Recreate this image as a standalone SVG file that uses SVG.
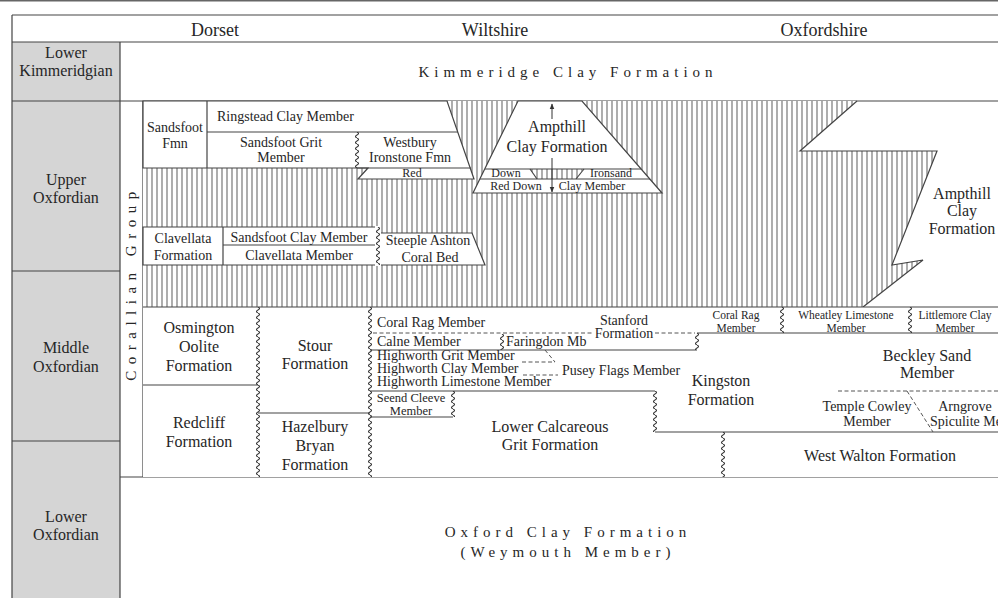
<svg xmlns="http://www.w3.org/2000/svg" width="998" height="598" viewBox="0 0 998 598">
<style>
text{font-family:"Liberation Serif","DejaVu Serif",serif;fill:#262626}
.h{font-size:18px;text-anchor:middle}
.s{font-size:16px;text-anchor:middle}
.f{font-size:16px;text-anchor:middle}
.m{font-size:14px;text-anchor:middle}
.m2{font-size:12.5px;text-anchor:middle}
.m3{font-size:11.5px;text-anchor:middle}
.ml{font-size:14px}
.sm{font-size:12px;text-anchor:middle}
.sp{font-size:15px;text-anchor:middle;letter-spacing:5px}
.ln{stroke:#444;stroke-width:1.2;fill:none}
.bx{fill:#fff;stroke:#444;stroke-width:1.2}
.ds{stroke:#555;stroke-width:1;stroke-dasharray:4 2.5;fill:none}
.wv{fill:url(#wave)}
</style>
<defs>
<pattern id="hatch" patternUnits="userSpaceOnUse" width="5" height="10"><rect width="5" height="10" fill="#fff"/><line x1="2" y1="0" x2="2" y2="10" stroke="#777" stroke-width="1.2"/></pattern>
<pattern id="wave" patternUnits="userSpaceOnUse" width="6" height="6"><path d="M3 0Q6 1.5 3 3Q0 4.5 3 6" fill="none" stroke="#333" stroke-width="1.1"/></pattern>
<marker id="ah" viewBox="0 0 10 10" refX="9" refY="5" markerWidth="6" markerHeight="6" orient="auto"><path d="M0 1L10 5L0 9z" fill="#333"/></marker>
</defs>
<rect width="998" height="598" fill="#fff"/>
<rect x="0" y="0" width="998" height="1.5" fill="#666"/>

<g id="frame">
<rect x="12" y="42" width="108" height="556" fill="#d5d5d5"/>
<line class="ln" x1="12" y1="15" x2="998" y2="15" stroke-width="2"/>
<line class="ln" x1="12" y1="42" x2="998" y2="42" stroke-width="2"/>
<line class="ln" x1="12" y1="15" x2="12" y2="598" stroke-width="1.5"/>
<line class="ln" x1="120" y1="42" x2="120" y2="598"/>
<line class="ln" x1="12" y1="101" x2="998" y2="101"/>
<line class="ln" x1="12" y1="271" x2="120" y2="271"/>
<line class="ln" x1="12" y1="441" x2="120" y2="441"/>
<line class="ln" x1="120" y1="477" x2="998" y2="477"/>
<line class="ln" x1="143" y1="101" x2="143" y2="477"/>
</g>

<g id="header">
<text class="h" x="215" y="36">Dorset</text>
<text class="h" x="495" y="36">Wiltshire</text>
<text class="h" x="824" y="36">Oxfordshire</text>
</g>

<g id="stages">
<text class="s" x="66" y="58">Lower</text><text class="s" x="66" y="76">Kimmeridgian</text>
<text class="s" x="66" y="185">Upper</text><text class="s" x="66" y="203">Oxfordian</text>
<text class="s" x="66" y="353">Middle</text><text class="s" x="66" y="372">Oxfordian</text>
<text class="s" x="66" y="522">Lower</text><text class="s" x="66" y="540">Oxfordian</text>
</g>

<g id="kimmeridge-clay"><text class="sp" x="568" y="77">Kimmeridge Clay Formation</text></g>
<g id="oxford-clay"><text class="sp" x="568" y="537">Oxford Clay Formation</text><text class="sp" x="568" y="557">(Weymouth Member)</text></g>
<g id="corallian-group"><text font-size="15" letter-spacing="6.5" text-anchor="middle" transform="translate(136,283) rotate(-90)">Corallian Group</text></g>

<g id="hatched-area">
<polygon points="143,101 857,101 800,151 937,151 892,265 923,260 863,307 143,307" fill="url(#hatch)"/>
<polyline class="ln" points="857,101 800,151 937,151 892,265 923,260 863,307"/>
</g>

<g id="dorset-upper">
<polygon class="bx" points="143,101 447,101 474,179 358,179 368,168 143,168"/>
<line class="ln" x1="207" y1="101" x2="207" y2="168"/>
<line class="ln" x1="207" y1="132" x2="458" y2="132"/>
<line class="ln" x1="357" y1="168" x2="471" y2="168"/>
<rect class="wv" width="6" height="36" transform="translate(354,132)"/>
<text class="m" x="175" y="132">Sandsfoot</text><text class="m" x="175" y="148">Fmn</text>
<text class="ml" x="217" y="121">Ringstead Clay Member</text>
<text class="m" x="281" y="147">Sandsfoot Grit</text><text class="m" x="281" y="162">Member</text>
<text class="m" x="410" y="147">Westbury</text><text class="m" x="410" y="162">Ironstone Fmn</text>
<text class="sm" x="412" y="177" font-size="11">Red</text>
</g>

<g id="ampthill-wilts">
<polygon class="bx" points="518,101 582,101 662,193 473,193"/>
<polygon points="530,169 583,169 577,179 537,179" fill="url(#hatch)"/>
<line class="ln" x1="485" y1="169" x2="641" y2="169"/>
<line class="ln" x1="480" y1="179" x2="650" y2="179"/>
<line class="ln" x1="530" y1="169" x2="537" y2="179"/>
<line class="ln" x1="584" y1="169" x2="576" y2="179"/>
<text class="f" x="557" y="132">Ampthill</text><text class="f" x="557" y="152">Clay Formation</text>
<text class="sm" x="506" y="177">Down</text><text class="sm" x="611" y="177">Ironsand</text>
<text class="sm" x="516" y="190" font-size="12.5">Red Down</text><text class="sm" x="592" y="190" font-size="12.5">Clay Member</text>
</g>

<g id="ampthill-oxon">
<text class="f" x="962" y="199">Ampthill</text><text class="f" x="962" y="216">Clay</text><text class="f" x="962" y="234">Formation</text>
</g>

<g id="clavellata">
<polygon class="bx" points="143,227 378,227 378,233 472,233 485,265 143,265"/>
<line class="ln" x1="223" y1="227" x2="223" y2="265"/>
<line class="ln" x1="223" y1="245" x2="378" y2="245"/>
<rect fill="#fff" x="375" y="226" width="6" height="40"/>
<rect class="wv" width="6" height="38" transform="translate(375,227)"/>
<text class="m" x="183" y="243">Clavellata</text><text class="m" x="183" y="260">Formation</text>
<text class="m" x="299" y="242">Sandsfoot Clay Member</text><text class="m" x="299" y="260">Clavellata Member</text>
<text class="m" x="428" y="245">Steeple Ashton</text><text class="m" x="430" y="262">Coral Bed</text>
</g>

<g id="middle-oxfordian">
<rect fill="#fff" x="143" y="307" width="855" height="170"/>
<line class="ln" x1="143" y1="307" x2="998" y2="307"/>
<line class="ln" x1="143" y1="385" x2="258" y2="385"/>
<line class="ln" x1="258" y1="413" x2="370" y2="413" stroke-width="1.5"/>
<rect class="wv" width="6" height="170" transform="translate(255,307)"/>
<rect class="wv" width="6" height="170" transform="translate(367,307)"/>
<line class="ds" x1="373" y1="333" x2="593" y2="333"/>
<line class="ds" x1="655" y1="333" x2="695" y2="333"/>
<rect class="wv" width="6" height="16" transform="translate(499,334)"/>
<line class="ln" x1="370" y1="350" x2="697" y2="350"/>
<rect class="wv" width="6" height="17" transform="translate(694,333)"/>
<line class="ln" x1="697" y1="333" x2="998" y2="333"/>
<rect class="wv" width="6" height="26" transform="translate(779,307)"/>
<rect class="wv" width="6" height="26" transform="translate(907,307)"/>
<line class="ds" x1="545" y1="350" x2="555" y2="362"/>
<line class="ds" x1="522" y1="362" x2="555" y2="362"/>
<line class="ds" x1="523" y1="375" x2="558" y2="375"/>
<line class="ln" x1="370" y1="391" x2="655" y2="391"/>
<rect class="wv" width="6" height="26" transform="translate(450,391)"/>
<line class="ln" x1="370" y1="417" x2="453" y2="417"/>
<rect class="wv" width="6" height="41" transform="translate(652,391)"/>
<line class="ln" x1="655" y1="432" x2="998" y2="432"/>
<line class="ds" x1="838" y1="391" x2="998" y2="391"/>
<line class="ds" x1="907" y1="391" x2="933" y2="432"/>
<rect class="wv" width="6" height="45" transform="translate(720,432)"/>
</g>

<g id="osmington"><text class="f" x="199" y="333">Osmington</text><text class="f" x="199" y="352">Oolite</text><text class="f" x="199" y="371">Formation</text></g>
<g id="redcliff"><text class="f" x="199" y="428">Redcliff</text><text class="f" x="199" y="447">Formation</text></g>
<g id="stour"><text class="f" x="315" y="351">Stour</text><text class="f" x="315" y="369">Formation</text></g>
<g id="hazelbury"><text class="f" x="315" y="432">Hazelbury</text><text class="f" x="315" y="451">Bryan</text><text class="f" x="315" y="470">Formation</text></g>
<g id="wilts-members">
<text class="ml" x="377" y="327">Coral Rag Member</text>
<text class="m" x="624" y="325">Stanford</text><text class="m" x="624" y="338">Formation</text>
<text class="ml" x="377" y="346">Calne Member</text>
<text class="ml" x="506" y="346">Faringdon Mb</text>
<text class="ml" x="377" y="360">Highworth Grit Member</text>
<text class="ml" x="377" y="373">Highworth Clay Member</text>
<text class="ml" x="377" y="386">Highworth Limestone Member</text>
<text class="m" x="621" y="375">Pusey Flags Member</text>
<text class="m2" x="411" y="402">Seend Cleeve</text><text class="m2" x="411" y="415">Member</text>
</g>
<g id="lower-calcareous"><text class="f" x="550" y="432">Lower Calcareous</text><text class="f" x="550" y="450">Grit Formation</text></g>
<g id="kingston"><text class="f" x="721" y="386">Kingston</text><text class="f" x="721" y="405">Formation</text></g>
<g id="oxon-members">
<text class="m3" x="736" y="318.5">Coral Rag</text><text class="m3" x="736" y="331.5">Member</text>
<text class="m3" x="846" y="318.5">Wheatley Limestone</text><text class="m3" x="846" y="331.5">Member</text>
<text class="m3" x="955" y="318.5">Littlemore Clay</text><text class="m3" x="955" y="331.5">Member</text>
</g>
<g id="beckley"><text class="f" x="927" y="361">Beckley Sand</text><text class="f" x="927" y="378">Member</text></g>
<g id="temple-cowley"><text class="m" x="867" y="411">Temple Cowley</text><text class="m" x="867" y="426">Member</text></g>
<g id="arngrove"><text class="m" x="965" y="411">Arngrove</text><text class="ml" x="930" y="426">Spiculite Member</text></g>
<g id="west-walton"><text class="f" x="880" y="461">West Walton Formation</text></g>

<g id="connectors">
<line x1="552" y1="119" x2="552" y2="104" stroke="#333" stroke-width="1" marker-end="url(#ah)"/>
<line x1="552" y1="158" x2="552" y2="192" stroke="#333" stroke-width="1" marker-end="url(#ah)"/>
</g>
</svg>
